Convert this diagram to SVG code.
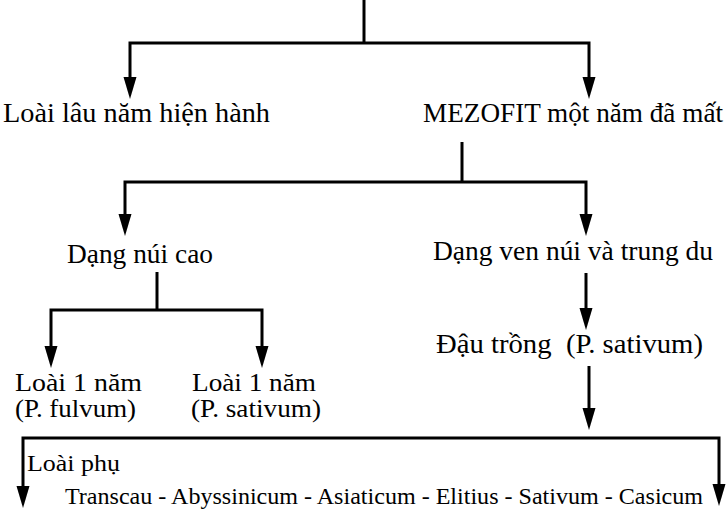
<svg xmlns="http://www.w3.org/2000/svg" width="727" height="513" viewBox="0 0 727 513">
<defs>
<style>
.t{font-family:"Liberation Serif","Times New Roman",serif;font-size:28px;fill:#000}
.w{font-family:"Liberation Serif","Times New Roman",serif;font-size:27px;fill:#000}
.m{font-family:"Liberation Serif","Times New Roman",serif;font-size:25px;fill:#000}
.b{font-family:"Liberation Serif","Times New Roman",serif;font-size:24px;fill:#000}
.s{font-family:"Liberation Serif","Times New Roman",serif;font-size:23px;fill:#000}
.c{fill:none;stroke:#000;stroke-width:3}
</style>
<marker id="ah" markerUnits="userSpaceOnUse" markerWidth="24" markerHeight="14" refX="12" refY="6.5" orient="auto" viewBox="0 0 24 13">
<path d="M0,0 L22,6.5 L0,13 z" fill="#000"/>
</marker>
</defs>
<rect width="727" height="513" fill="#fff"/>
<g id="connectors">
<path class="c" d="M364,0 V43"/>
<path class="c" d="M364,43 H130 V89" marker-end="url(#ah)"/>
<path class="c" d="M364,43 H589 V89" marker-end="url(#ah)"/>
<path class="c" d="M462,142 V182"/>
<path class="c" d="M462,182 H125 V226" marker-end="url(#ah)"/>
<path class="c" d="M462,182 H586 V226" marker-end="url(#ah)"/>
<path class="c" d="M157,272 V310"/>
<path class="c" d="M157,310 H51 V358" marker-end="url(#ah)"/>
<path class="c" d="M157,310 H262 V358" marker-end="url(#ah)"/>
<path class="c" d="M586,273 V320" marker-end="url(#ah)"/>
<path class="c" d="M589,366 V420" marker-end="url(#ah)"/>
<path class="c" d="M589,438 H23 V498" marker-end="url(#ah)"/>
<path class="c" d="M589,438 H719 V496" marker-end="url(#ah)"/>
</g>
<g id="n1"><text class="t" x="3" y="122" textLength="267" lengthAdjust="spacingAndGlyphs">Loài lâu năm hiện hành</text></g>
<g id="n2"><text class="w" x="423" y="122" textLength="300" lengthAdjust="spacingAndGlyphs">MEZOFIT một năm đã mất</text></g>
<g id="n3"><text class="t" x="67" y="263" textLength="146" lengthAdjust="spacingAndGlyphs">Dạng núi cao</text></g>
<g id="n4"><text class="t" x="433" y="260" textLength="280" lengthAdjust="spacingAndGlyphs">Dạng ven núi và trung du</text></g>
<g id="n5"><text class="t" x="436" y="353" textLength="267" lengthAdjust="spacingAndGlyphs" xml:space="preserve">Đậu trồng  (P. sativum)</text></g>
<g id="n6"><text class="m" x="15" y="391" textLength="127" lengthAdjust="spacingAndGlyphs">Loài 1 năm</text><text class="m" x="15" y="417" textLength="121" lengthAdjust="spacingAndGlyphs">(P. fulvum)</text></g>
<g id="n7"><text class="m" x="192" y="391" textLength="124" lengthAdjust="spacingAndGlyphs">Loài 1 năm</text><text class="m" x="191" y="417" textLength="130" lengthAdjust="spacingAndGlyphs">(P. sativum)</text></g>
<g id="n8"><text class="s" x="27" y="471" textLength="93" lengthAdjust="spacingAndGlyphs">Loài phụ</text></g>
<g id="n9"><text class="b" x="65" y="504" textLength="638" lengthAdjust="spacingAndGlyphs">Transcau - Abyssinicum - Asiaticum - Elitius - Sativum - Casicum</text></g>
</svg>
